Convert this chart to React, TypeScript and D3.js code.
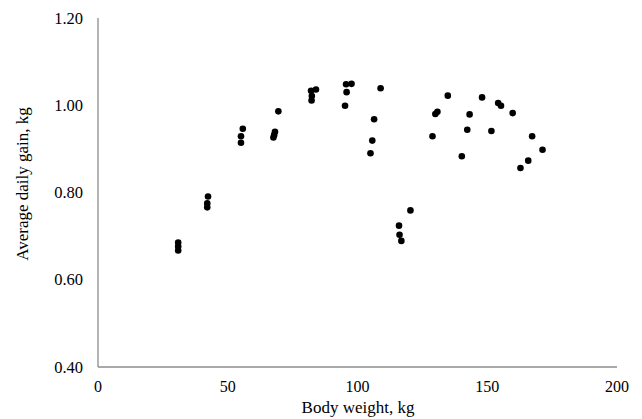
import React from 'react';
import * as d3 from 'd3';

// body weight (kg) and average daily gain (kg)
const weight = [
  30.9, 30.9, 30.9, 42.4, 42.1, 42.1,
  55.8, 55.1, 55.1, 69.5, 68.2, 67.9, 67.6,
  82.1, 84.0, 82.4, 82.3,
  95.6, 97.7, 95.8, 95.2,
  108.9, 106.4, 105.7, 105.0,
  120.4, 116.0, 116.2, 116.9,
  134.8, 130.8, 130.0, 128.9, 140.2, 142.3, 143.2,
  148.0, 151.6, 154.2, 155.3, 159.8, 167.3, 171.3, 165.8, 162.8,
];
const gain = [
  0.685, 0.676, 0.667, 0.791, 0.775, 0.766,
  0.946, 0.929, 0.914, 0.986, 0.939, 0.932, 0.926,
  1.033, 1.036, 1.021, 1.011,
  1.048, 1.049, 1.030, 0.999,
  1.039, 0.968, 0.919, 0.890,
  0.759, 0.724, 0.703, 0.689,
  1.022, 0.985, 0.980, 0.929, 0.883, 0.944, 0.979,
  1.018, 0.941, 1.005, 0.999, 0.982, 0.929, 0.898, 0.873, 0.856,
];
const xTicks = [0, 50, 100, 150, 200];
const yTicks = [0.4, 0.6, 0.8, 1.0, 1.2];

const W = 642;
const H = 419;
const textStyle = { fontFamily: "'Liberation Serif', 'Times New Roman', Times, serif" };
const axisColor = '#8c8c8c';

export default function App() {
  const x = d3.scaleLinear().domain([0, 200]).range([98, 617]);
  const y = d3.scaleLinear().domain([0.4, 1.2]).range([367, 18]);

  return (
    <svg width={W} height={H} style={{ position: 'absolute', left: 0, top: 0 }}>
      <rect width={W} height={H} fill="#fff" />
      {/* axes */}
      <line x1={x(0)} x2={x(0)} y1={y(1.2)} y2={y(0.4)} stroke={axisColor} strokeWidth={1.3} />
      <line x1={x(0)} x2={x(200)} y1={y(0.4)} y2={y(0.4)} stroke={axisColor} strokeWidth={1.3} />

      {yTicks.map((t) => (
        <text key={t} x={83} y={y(t)} textAnchor="end" dominantBaseline="central" fontSize={16.5} fill="#000" style={textStyle}>
          {d3.format('.2f')(t)}
        </text>
      ))}
      {xTicks.map((t) => (
        <text key={t} x={x(t)} y={392} textAnchor="middle" fontSize={16} fill="#000" style={textStyle}>
          {t}
        </text>
      ))}

      <text x={358} y={413} textAnchor="middle" fontSize={17} fill="#000" style={textStyle}>Body weight, kg</text>
      <text transform={`translate(28, 184) rotate(-90)`} textAnchor="middle" fontSize={17} fill="#000" style={textStyle}>
        Average daily gain, kg
      </text>

      <g fill="#000">
        {weight.map((w, i) => (
          <circle key={i} cx={x(w)} cy={y(gain[i])} r={3.3} />
        ))}
      </g>
    </svg>
  );
}
